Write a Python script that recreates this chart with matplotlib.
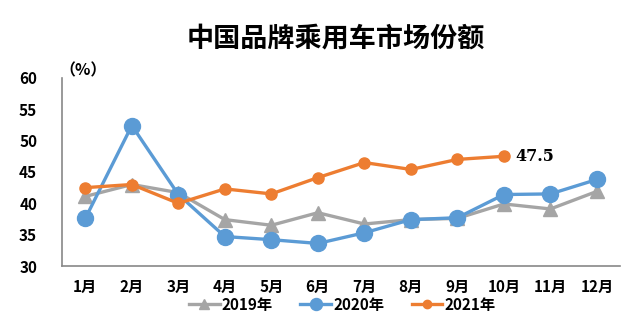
import matplotlib
matplotlib.use("Agg")
import numpy as np
from matplotlib import pyplot as plt

plt.rcParams['font.family'] = ['Noto Sans CJK SC', 'DejaVu Sans']

months = ['1月', '2月', '3月', '4月', '5月', '6月', '7月', '8月', '9月', '10月', '11月', '12月']
share_2019 = [41.1, 43.0, 41.7, 37.4, 36.5, 38.5, 36.7, 37.4, 37.6, 39.9, 39.1, 41.9]
share_2020 = [37.6, 52.4, 41.4, 34.7, 34.2, 33.6, 35.3, 37.4, 37.7, 41.4, 41.5, 43.8]
share_2021 = [42.5, 43.0, 40.0, 42.3, 41.5, 44.1, 46.5, 45.4, 47.0, 47.5]
last_label = '47.5'

gray = '#A5A5A5'
blue = '#5B9BD5'
orange = '#ED7D31'

fig = plt.figure(figsize=(6.4, 3.26), dpi=100)
ax = fig.add_axes([0.097, 0.184, 0.872, 0.577])

x = np.arange(len(months))
ax.plot(x, share_2019, color=gray, lw=2.4, marker='^', ms=10, label='2019年', zorder=2)
ax.plot(x, share_2020, color=blue, lw=2.4, marker='o', ms=11.5, label='2020年', zorder=3)
ax.plot(x[:len(share_2021)], share_2021, color=orange, lw=2.4, marker='o', ms=8, label='2021年', zorder=4)

ax.annotate(last_label, (x[len(share_2021) - 1], share_2021[-1]), xytext=(8, 0),
            textcoords='offset points', va='center', ha='left',
            fontsize=11.5, fontweight='bold', family='DejaVu Serif')

ax.set_xlim(-0.5, len(months) - 0.5)
ax.set_ylim(30, 60)
ax.set_yticks(range(30, 61, 5))
ax.set_xticks(x)
ax.set_xticklabels(months)
ax.tick_params(axis='both', length=0, labelsize=11)
ax.tick_params(axis='y', pad=18)
ax.tick_params(axis='x', pad=9)
for lbl in ax.get_xticklabels() + ax.get_yticklabels():
    lbl.set_fontweight('bold')

for s in ['top', 'right']:
    ax.spines[s].set_visible(False)
for s in ['left', 'bottom']:
    ax.spines[s].set_color('#888888')
    ax.spines[s].set_linewidth(1.2)

ax.text(-0.005, 1.0, '（%）', transform=ax.transAxes, fontsize=11.5, fontweight='bold',
        ha='left', va='bottom')

fig.text(0.525, 0.883, '中国品牌乘用车市场份额', ha='center', va='center',
         fontsize=19.5, fontweight='bold')

fig.legend(loc='center', bbox_to_anchor=(0.535, 0.065), ncol=3, frameon=False,
           handlelength=2.0, columnspacing=1.8, handletextpad=0.15, markerscale=0.75,
           prop={'weight': 'bold', 'size': 11})

fig.savefig('out.png', dpi=100)
